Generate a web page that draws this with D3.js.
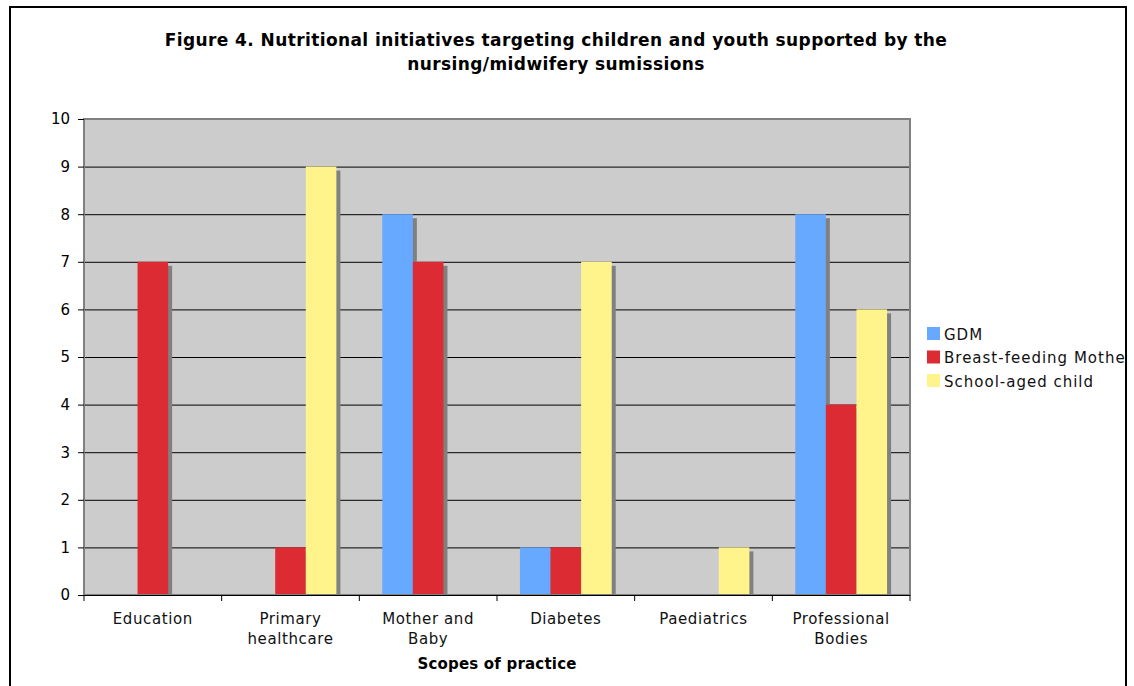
<!DOCTYPE html>
<html><head><meta charset="utf-8">
<script src="https://cdn.jsdelivr.net/npm/d3@7"></script>
<style>body{margin:0;background:#fff}svg{display:block;font-family:"DejaVu Sans",Verdana,sans-serif}</style>
</head><body><svg id="c" width="1134" height="686"></svg>
<script>
const categories = [["Education"],["Primary","healthcare"],["Mother and","Baby"],["Diabetes"],["Paediatrics"],["Professional","Bodies"]];
const seriesNames = ["GDM","Breast-feeding Mothers","School-aged child"];
const gdm = [0,0,8,1,0,8];
const breast = [7,1,7,1,0,4];
const school = [0,9,0,7,1,6];
const yTicks = [0,1,2,3,4,5,6,7,8,9,10];
const colors = ["#66a9ff","#dd2b33","#fff38c"];
const titleLines = ["Figure 4. Nutritional initiatives targeting children and youth supported by the","nursing/midwifery sumissions"];
const xTitle = "Scopes of practice";

const series = [gdm, breast, school];
const svg = d3.select("#c");
const L=84,R=910,T=119,B=595;

svg.append("defs").append("clipPath").attr("id","clip").append("rect").attr("x",10).attr("y",7).attr("width",1115).attr("height",700);
const root = svg.append("g").attr("clip-path","url(#clip)");

// outer border
svg.append("rect").attr("x",10).attr("y",7).attr("width",1116).attr("height",700).attr("fill","none").attr("stroke","#000").attr("stroke-width",2);

const x0 = d3.scaleBand().domain(d3.range(categories.length)).range([L,R]).padding(0);
const x1 = d3.scaleBand().domain(d3.range(3)).range([0,x0.bandwidth()]).paddingInner(0).paddingOuter(0.75);
const y = d3.scaleLinear().domain([0,10]).range([B,T]);

// plot area
root.append("rect").attr("x",L).attr("y",T).attr("width",R-L).attr("height",B-T).attr("fill","#cccccc");
// gridlines
root.append("g").selectAll("line").data(yTicks.slice(1,-1)).join("line")
  .attr("x1",L).attr("x2",R).attr("y1",d=>y(d)+0.5).attr("y2",d=>y(d)+0.5).attr("stroke","#000").attr("stroke-width",1);

// bars with shadows
const g = root.append("g");
series.forEach((s,si)=>{
  s.forEach((v,ci)=>{
    if(v<=0) return;
    const bx = x0(ci)+x1(si), bw = x1.bandwidth();
    g.append("rect").attr("x",bx+4).attr("y",y(v)+4).attr("width",bw).attr("height",B-y(v)-4).attr("fill","#808080");
  });
});
series.forEach((s,si)=>{
  s.forEach((v,ci)=>{
    if(v<=0) return;
    const bx = x0(ci)+x1(si), bw = x1.bandwidth();
    g.append("rect").attr("x",bx).attr("y",y(v)).attr("width",bw).attr("height",B-y(v)).attr("fill",colors[si]);
  });
});
// plot border
root.append("rect").attr("x",L).attr("y",T).attr("width",R-L).attr("height",B-T).attr("fill","none").attr("stroke","#808080").attr("stroke-width",2);

// y axis
const ya = root.append("g").attr("transform",`translate(${L},0)`)
  .call(d3.axisLeft(y).tickValues(yTicks).tickSize(6).tickPadding(8).tickFormat(d3.format("d")));
ya.select(".domain").remove();
ya.selectAll("line").attr("stroke","#000");
ya.selectAll("text").attr("font-size",15).attr("fill","#000").attr("font-family","DejaVu Sans");

// x axis
root.append("line").attr("x1",L).attr("x2",R).attr("y1",B+0.5).attr("y2",B+0.5).attr("stroke","#000");
root.append("g").selectAll("line").data(d3.range(categories.length+1)).join("line")
  .attr("x1",d=>L+d*x0.bandwidth()).attr("x2",d=>L+d*x0.bandwidth()).attr("y1",B).attr("y2",B+6).attr("stroke","#000");
const xl = root.append("g").selectAll("text").data(categories).join("text")
  .attr("x",(d,i)=>x0(i)+x0.bandwidth()/2).attr("y",624).attr("text-anchor","middle")
  .attr("font-size",15).attr("letter-spacing","0.6px").attr("fill","#111");
xl.each(function(d){
  const t=d3.select(this);
  d.forEach((line,k)=>t.append("tspan").attr("x",t.attr("x")).attr("dy",k?20:0).text(line));
});
root.append("text").attr("x",(L+R)/2).attr("y",669).attr("text-anchor","middle").attr("font-size",15).attr("letter-spacing","0.2px").attr("font-weight","bold").text(xTitle);

// title
root.append("g").selectAll("text").data(titleLines).join("text")
  .attr("x",556).attr("y",(d,i)=>46+i*24).attr("text-anchor","middle").attr("font-size",17).attr("letter-spacing","0.4px").attr("font-weight","bold").text(d=>d);

// legend
const lg = root.append("g");
seriesNames.forEach((n,i)=>{
  lg.append("rect").attr("x",927).attr("y",327+i*23.5).attr("width",13).attr("height",13).attr("fill",colors[i]);
  lg.append("text").attr("x",944).attr("y",339.5+i*23.5).attr("font-size",15).attr("letter-spacing","1px").attr("fill","#111").text(n);
});
</script></body></html>
